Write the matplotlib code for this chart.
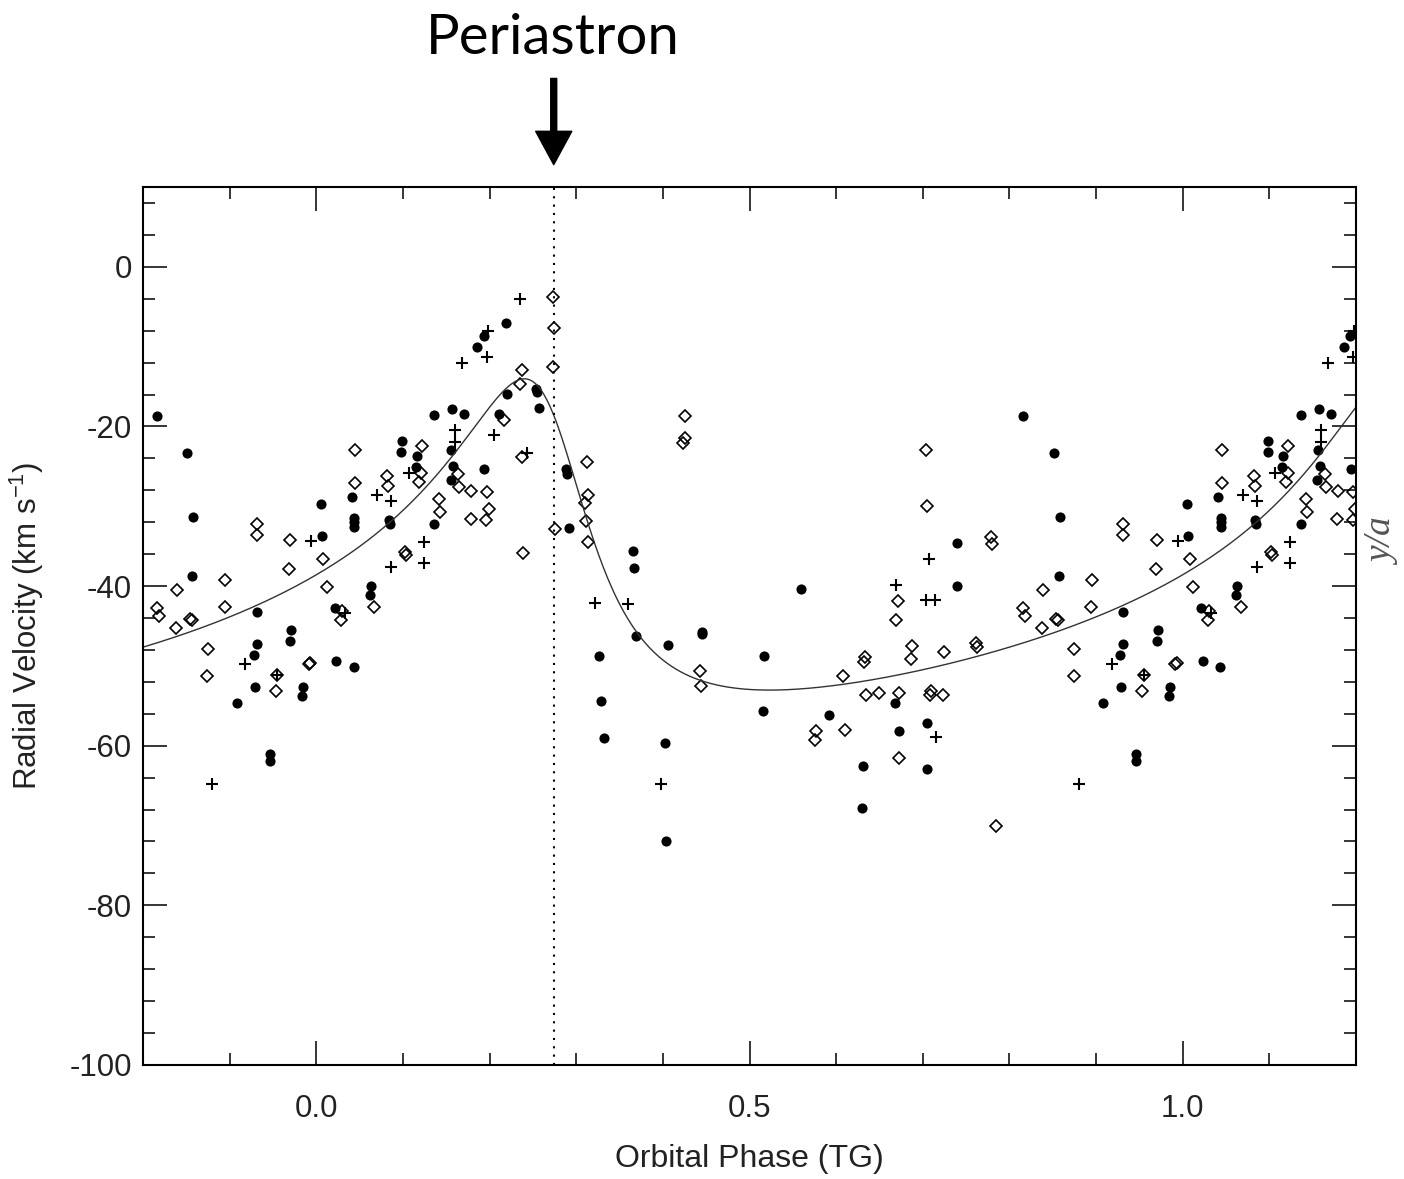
import numpy as np
import matplotlib
matplotlib.use('Agg')
import matplotlib.pyplot as plt
from matplotlib.ticker import MultipleLocator, FormatStrFormatter

plt.rcParams['font.family'] = ['Liberation Sans', 'DejaVu Sans']
plt.rcParams['axes.unicode_minus'] = False

# measured radial velocities, phase folded to [-0.2, 0.8)
circ_phase = [-0.184, -0.149, -0.142, -0.143, -0.069, -0.069, -0.072, -0.071, -0.092,
              -0.029, -0.030, -0.015, -0.016, -0.054, -0.054, 0.005, 0.006, 0.021,
              0.023, 0.043, 0.041, 0.044, 0.044, 0.044, 0.063, 0.062, 0.084, 0.085,
              0.099, 0.098, 0.116, 0.115, 0.136, 0.136, 0.157, 0.171, 0.156, 0.158,
              0.155, 0.186, 0.193, 0.219, 0.194, 0.211, 0.220, 0.253, 0.255, 0.257,
              0.288, 0.289, 0.292, 0.365, 0.367, 0.369, 0.406, 0.445, 0.445, 0.326,
              0.329, 0.332, 0.402, 0.404, 0.517, 0.516, 0.559, 0.592, 0.630, 0.631,
              0.668, 0.672, 0.705, 0.705, 0.740, 0.739]
circ_rv = [-18.7, -23.3, -31.4, -38.7, -43.3, -47.2, -48.6, -52.7, -54.6,
           -45.5, -46.9, -52.6, -53.8, -61.1, -61.9, -29.7, -33.7, -42.7,
           -49.4, -50.1, -28.9, -31.5, -32.0, -32.6, -40.0, -41.1, -31.7, -32.2,
           -21.8, -23.2, -23.7, -25.1, -18.6, -32.2, -17.8, -18.4, -23.0, -24.9,
           -26.7, -10.1, -8.7, -7.0, -25.3, -18.4, -15.9, -15.3, -15.7, -17.7,
           -25.3, -25.9, -32.7, -35.6, -37.7, -46.3, -47.4, -45.7, -46.0, -48.8,
           -54.4, -59.0, -59.7, -71.9, -48.7, -55.6, -40.4, -56.2, -67.8, -62.5,
           -54.7, -58.1, -57.1, -62.9, -34.6, -40.0]

diam_phase = [-0.184, -0.182, -0.162, -0.161, -0.146, -0.144, -0.105, -0.106, -0.125,
              -0.126, -0.069, -0.069, -0.030, -0.031, -0.045, -0.047, -0.009, -0.007,
              0.008, 0.012, 0.030, 0.029, 0.045, 0.045, 0.067, 0.082, 0.083, 0.102,
              0.103, 0.122, 0.121, 0.119, 0.142, 0.143, 0.164, 0.165, 0.179, 0.197,
              0.178, 0.196, 0.199, 0.217, 0.237, 0.235, 0.237, 0.239, 0.273, 0.274,
              0.273, 0.276, 0.312, 0.314, 0.310, 0.311, 0.313, 0.425, 0.425, 0.423,
              0.443, 0.444, 0.577, 0.575, 0.608, 0.610, 0.633, 0.632, 0.635, 0.650,
              0.673, 0.669, 0.671, 0.672, 0.687, 0.686, 0.704, 0.705, 0.709, 0.708,
              0.723, 0.724, 0.761, 0.762, 0.779, 0.780, 0.785]
diam_rv = [-42.7, -43.8, -45.2, -40.5, -44.1, -44.3, -39.2, -42.6, -47.9,
           -51.3, -32.2, -33.6, -34.2, -37.8, -51.1, -53.1, -49.7, -49.6,
           -36.6, -40.1, -43.1, -44.3, -23.0, -27.1, -42.6, -26.2, -27.4, -35.7,
           -36.1, -22.5, -25.8, -26.9, -29.1, -30.7, -25.9, -27.6, -28.1, -28.2,
           -31.6, -31.7, -30.3, -19.2, -12.9, -14.7, -23.8, -35.9, -3.8, -7.7,
           -12.6, -32.9, -24.5, -28.6, -29.6, -31.9, -34.5, -18.7, -21.5, -22.1,
           -50.7, -52.5, -58.1, -59.3, -51.3, -58.0, -48.9, -49.5, -53.6, -53.4,
           -53.4, -44.3, -41.9, -61.6, -47.5, -49.1, -23.0, -30.0, -53.2, -53.6,
           -53.7, -48.3, -47.1, -47.6, -33.9, -34.7, -70.1]

plus_phase = [-0.120, -0.082, -0.045, -0.006, 0.033, 0.070, 0.086, 0.086, 0.107,
              0.124, 0.124, 0.160, 0.160, 0.168, 0.197, 0.198, 0.205, 0.235, 0.243,
              0.322, 0.360, 0.398, 0.669, 0.707, 0.704, 0.714, 0.715]
plus_rv = [-64.8, -49.8, -51.1, -34.3, -43.4, -28.6, -29.3, -37.6, -25.8,
           -34.5, -37.1, -20.4, -21.9, -12.0, -11.3, -8.1, -21.1, -4.0, -23.3,
           -42.1, -42.2, -64.8, -39.9, -36.6, -41.8, -41.8, -58.9]

# orbital solution for the model curve
P_PERI = 0.274
ECC = 0.5
OMEGA = 40.0
K_AMP = 19.5
GAMMA = -41.0


def kepler_rv(phase):
    M = 2 * np.pi * (phase - P_PERI)
    E = M.copy()
    for i in range(60):
        E = E - (E - ECC * np.sin(E) - M) / (1 - ECC * np.cos(E))
    nu = 2 * np.arctan2(np.sqrt(1 + ECC) * np.sin(E / 2), np.sqrt(1 - ECC) * np.cos(E / 2))
    w = np.radians(OMEGA)
    return GAMMA + K_AMP * (np.cos(nu + w) + ECC * np.cos(w))


def wrap(ph, rv):
    ph = np.array(ph)
    rv = np.array(rv)
    ph2 = np.concatenate([ph, ph + 1])
    rv2 = np.concatenate([rv, rv])
    keep = (ph2 >= -0.2) & (ph2 <= 1.2)
    return ph2[keep], rv2[keep]


fig = plt.figure(figsize=(14.04, 11.79), dpi=100)
ax = fig.add_axes([0.1019, 0.0967, 0.8639, 0.7447])

x, y = wrap(circ_phase, circ_rv)
ax.plot(x, y, 'o', color='black', ms=7.3, mew=0)
x, y = wrap(diam_phase, diam_rv)
ax.plot(x, y, 'D', mfc='none', mec='black', ms=6.2, mew=1.2)
x, y = wrap(plus_phase, plus_rv)
ax.plot(x, y, '+', color='black', ms=9, mew=1.5)

ph = np.linspace(-0.2, 1.2, 800)
ax.plot(ph, kepler_rv(ph), color='#333333', lw=1.0)

ax.axvline(P_PERI, color='black', ls=(0, (1, 3)), lw=1.5)

ax.set_xlim(-0.2, 1.2)
ax.set_ylim(-100, 10)
ax.xaxis.set_major_locator(MultipleLocator(0.5))
ax.xaxis.set_minor_locator(MultipleLocator(0.1))
ax.xaxis.set_major_formatter(FormatStrFormatter('%.1f'))
ax.yaxis.set_major_locator(MultipleLocator(20))
ax.yaxis.set_minor_locator(MultipleLocator(4))
ax.tick_params(which='both', direction='in', top=True, right=True, width=1.1,
               labelsize=22.5, labelcolor='#222222')
ax.tick_params(which='major', length=17)
ax.tick_params(which='minor', length=8.5)
ax.tick_params(axis='x', pad=21)
ax.tick_params(axis='y', pad=8)
for s in ax.spines.values():
    s.set_linewidth(1.5)

ax.set_xlabel('Orbital Phase (TG)', fontsize=23, color='#222222')
ax.set_ylabel('Radial Velocity (km s$^{\\mathregular{-1}}$)', fontsize=22.5, color='#222222')
ax.xaxis.set_label_coords(0.5, -0.09)
ax.yaxis.set_label_coords(-0.08, 0.5)

ax.annotate('', xy=(P_PERI, 12.8), xytext=(P_PERI, 23.6), annotation_clip=False,
            arrowprops=dict(facecolor='black', edgecolor='black', width=4.3,
                            headwidth=26, headlength=24, shrink=0))
ax.text(P_PERI - 0.001, 26.6, 'Periastron', fontsize=40.5, family=['Lato', 'DejaVu Sans'],
        ha='center', va='baseline', clip_on=False)

fig.text(0.986, 0.540, 'y/a', rotation=90, fontsize=27, family='Liberation Serif',
         style='italic', color='#555555', ha='center', va='center')

fig.savefig('out.png', dpi=100)
